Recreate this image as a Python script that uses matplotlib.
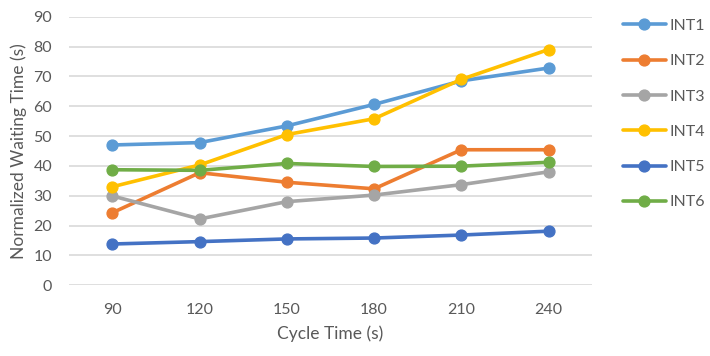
import matplotlib.pyplot as plt

# Dados
ciclos = ["90", "120", "150", "180", "210", "240"]
int1 = [47.0, 47.8, 53.4, 60.6, 68.5, 72.8]
int2 = [24.3, 37.7, 34.5, 32.3, 45.4, 45.4]
int3 = [29.9, 22.2, 28.0, 30.2, 33.7, 38.0]
int4 = [33.0, 40.3, 50.5, 55.8, 69.0, 79.0]
int5 = [13.8, 14.6, 15.5, 15.8, 16.8, 18.1]
int6 = [38.7, 38.5, 40.8, 39.8, 39.9, 41.2]

series = [("INT1", int1, "#5B9BD5"), ("INT2", int2, "#ED7D31"),
          ("INT3", int3, "#A5A5A5"), ("INT4", int4, "#FFC000"),
          ("INT5", int5, "#4472C4"), ("INT6", int6, "#70AD47")]

texto = "#595959"
plt.rcParams['font.family'] = ['Lato', 'DejaVu Sans']

fig = plt.figure(figsize=(7.1, 3.56), dpi=100)
ax = fig.add_axes([0.097, 0.199, 0.737, 0.754])

x = range(len(ciclos))
for nome, vals, cor in series:
    ax.plot(x, vals, color=cor, lw=2.6, marker='o', ms=7.8, label=nome,
            solid_capstyle='round')

ax.set_xlim(-0.5, len(ciclos) - 0.5)
ax.set_ylim(0, 90)
ax.set_yticks(range(0, 91, 10))
ax.set_xticks(list(x))
ax.set_xticklabels(ciclos)
ax.grid(axis='y', color='#D9D9D9', lw=1.2)
ax.set_axisbelow(True)
for s in ax.spines.values():
    s.set_visible(False)
ax.tick_params(length=0, colors=texto, labelsize=11.5)
ax.tick_params(axis='y', pad=12)
ax.tick_params(axis='x', pad=13)
ax.set_xlabel("Cycle Time (s)", color=texto, fontsize=12.5, labelpad=6)
ax.set_ylabel("Normalized Waiting Time (s)", color=texto, fontsize=12.5, labelpad=5)

leg = fig.legend(loc='upper left', bbox_to_anchor=(0.877, 0.947), frameon=False,
                 fontsize=11.5, labelspacing=1.32, handlelength=2.7,
                 handletextpad=0.25, borderpad=0, borderaxespad=0,
                 labelcolor=texto)

fig.savefig("out.png", dpi=100)
